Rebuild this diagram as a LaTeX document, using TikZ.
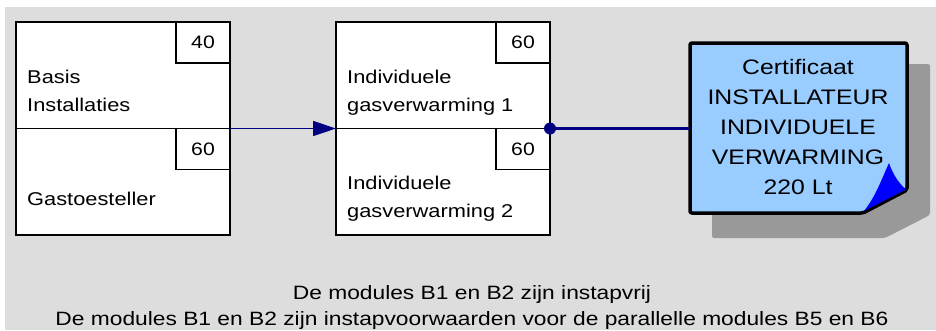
\documentclass[tikz,border=0pt]{standalone}
\usepackage{fontspec}
\setmainfont[FakeStretch=1.18]{Liberation Sans}
\usetikzlibrary{arrows.meta}
\definecolor{bg}{HTML}{DDDDDD}
\definecolor{navyc}{HTML}{000080}
\definecolor{certfill}{HTML}{99CCFF}
\definecolor{shadowc}{HTML}{999999}
\definecolor{foldc}{HTML}{0000FF}
\tikzset{
  modbox/.style={draw=black, line width=1.5pt, fill=white, minimum width=214pt, minimum height=106.5pt, anchor=north west, inner sep=0pt, outer sep=0pt},
  numbox/.style={draw=black, line width=1.2pt, fill=white, minimum width=54pt, minimum height=41pt, anchor=north east, inner sep=0pt, outer sep=0pt, font=\fontsize{18}{22}\selectfont},
  lbl/.style={anchor=base west, inner sep=0pt, align=left, font=\fontsize{18.5}{28}\selectfont},
  certtxt/.style={inner sep=0pt, align=center, font=\fontsize{21}{30}\selectfont},
  foot/.style={anchor=base, inner sep=0pt, font=\fontsize{19.3}{22}\selectfont},
  conn/.style={draw=navyc, line width=1.4pt},
}
\begin{document}
\begin{tikzpicture}[x=1pt,y=-1pt]
\useasboundingbox (0,0) rectangle (936,330);
\fill[white] (0,0) rectangle (936,330);
\fill[bg] (5,7) rectangle (936,330);
% module group 1
\node[modbox] (m1) at (16,22) {};
\node[modbox] (m2) at (16,128.5) {};
\node[numbox] (n1) at (m1.north east) {40};
\node[numbox] (n2) at (m2.north east) {60};
\node[lbl] (t1) at (27,83) {Basis};
\node[lbl] (t1b) at (27,111) {Installaties};
\node[lbl] (t2) at (27,205) {Gastoesteller};
% module group 2
\node[modbox] (m3) at (336,22) {};
\node[modbox] (m4) at (336,128.5) {};
\node[numbox] (n3) at (m3.north east) {60};
\node[numbox] (n4) at (m4.north east) {60};
\node[lbl] (t3) at (347,83) {Individuele};
\node[lbl] (t3b) at (347,111) {gasverwarming 1};
\node[lbl] (t4) at (347,189) {Individuele};
\node[lbl] (t4b) at (347,217) {gasverwarming 2};
% certificate shadow
\fill[shadowc, rounded corners=2pt] (712,64) -- (930,64) -- (930,215) -- (885,238) -- (712,238) -- cycle;
% certificate
\draw[black, line width=3.5pt, fill=certfill, rounded corners=2pt, line join=round] (690,43) -- (907,43) -- (907,190) -- (863,213) -- (690,213) -- cycle;
\fill[foldc] (864,211) .. controls (876,196) and (882,178) .. (889,163) .. controls (893,175) and (900,185) .. (907,190) -- cycle;
\draw[black, line width=1.5pt] (864,212) -- (907,190);
\node[certtxt] (cert) at (798,127) {Certificaat\\INSTALLATEUR\\INDIVIDUELE\\VERWARMING\\220 Lt};
\coordinate (certw) at (690,128.5);
% connectors
\draw[conn, -{Triangle[length=23pt, width=15pt]}] (m1.south east) -- (m3.south west);
\draw[navyc, line width=2.4pt] (m3.south east) -- (certw);
\fill[navyc] (m3.south east) circle (6pt);
% footer
\node[foot] (f1) at (472,299) {De modules B1 en B2 zijn instapvrij};
\node[foot] (f2) at (472,325) {De modules B1 en B2 zijn instapvoorwaarden voor de parallelle modules B5 en B6};
\end{tikzpicture}
\end{document}
